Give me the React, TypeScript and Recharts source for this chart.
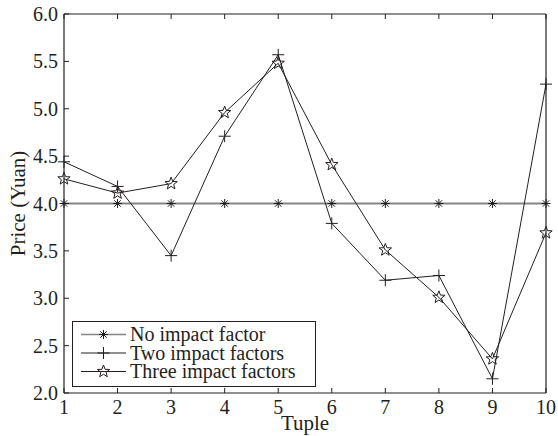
import React from 'react';
import { LineChart, Line, XAxis, YAxis, Legend } from 'recharts';

const tuples = [1, 2, 3, 4, 5, 6, 7, 8, 9, 10];
const noImpact = [4, 4, 4, 4, 4, 4, 4, 4, 4, 4];
const twoImpact = [4.44, 4.18, 3.45, 4.71, 5.57, 3.79, 3.19, 3.24, 2.15, 5.26];
const threeImpact = [4.26, 4.11, 4.21, 4.96, 5.48, 4.41, 3.51, 3.01, 2.36, 3.69];
const yTicks = [2, 2.5, 3, 3.5, 4, 4.5, 5, 5.5, 6];
const seriesNames = ['No impact factor', 'Two impact factors', 'Three impact factors'];

const data = tuples.map((t, i) => ({
  tuple: t,
  none: noImpact[i],
  two: twoImpact[i],
  three: threeImpact[i],
}));

const INK = '#231f20';
const GRAY = '#858585';
const FONT = '"Liberation Serif", "Times New Roman", serif';

const Asterisk = ({ cx, cy }: { cx: number; cy: number }) => {
  const r = 4.5;
  const d = r * 0.72;
  return (
    <g stroke={INK} strokeWidth={1}>
      <line x1={cx - r} y1={cy} x2={cx + r} y2={cy} />
      <line x1={cx} y1={cy - r} x2={cx} y2={cy + r} />
      <line x1={cx - d} y1={cy - d} x2={cx + d} y2={cy + d} />
      <line x1={cx - d} y1={cy + d} x2={cx + d} y2={cy - d} />
    </g>
  );
};

const Plus = ({ cx, cy }: { cx: number; cy: number }) => {
  const r = 6;
  return (
    <g stroke={INK} strokeWidth={1}>
      <line x1={cx - r} y1={cy} x2={cx + r} y2={cy} />
      <line x1={cx} y1={cy - r} x2={cx} y2={cy + r} />
    </g>
  );
};

const Star = ({ cx, cy }: { cx: number; cy: number }) => {
  const R = 6.5;
  const r = R * 0.42;
  const pts: string[] = [];
  for (let k = 0; k < 10; k++) {
    const ang = -Math.PI / 2 + (k * Math.PI) / 5;
    const rad = k % 2 === 0 ? R : r;
    pts.push(`${cx + rad * Math.cos(ang)},${cy + rad * Math.sin(ang)}`);
  }
  return <polygon points={pts.join(' ')} fill="none" stroke={INK} strokeWidth={1} />;
};

const BottomTick = (p: any) => (
  <g>
    <line x1={p.x} x2={p.x} y1={p.y} y2={p.y - 5} stroke={INK} />
    <text x={p.x} y={p.y + 21} textAnchor="middle" fontFamily={FONT} fontSize={20} fill={INK}>
      {p.payload.value}
    </text>
  </g>
);
const TopTick = (p: any) => (
  <line x1={p.x} x2={p.x} y1={p.y} y2={p.y + 5} stroke={INK} />
);
const LeftTick = (p: any) => (
  <g>
    <line x1={p.x} x2={p.x + 5} y1={p.y} y2={p.y} stroke={INK} />
    <text x={p.x - 6} y={p.y + 7} textAnchor="end" fontFamily={FONT} fontSize={20} fill={INK}>
      {Number(p.payload.value).toFixed(1)}
    </text>
  </g>
);
const RightTick = (p: any) => (
  <line x1={p.x} x2={p.x - 5} y1={p.y} y2={p.y} stroke={INK} />
);

const markers = [Asterisk, Plus, Star];
const lineColors = [GRAY, INK, INK];

const LegendBox = () => (
  <svg width={244} height={66} style={{ display: 'block' }}>
    <rect x={0.5} y={0.5} width={243} height={65} fill="#fff" stroke={INK} strokeWidth={1} />
    {seriesNames.map((name, i) => {
      const cy = [13.5, 32, 50.5][i];
      const M = markers[i];
      return (
        <g key={name}>
          <line x1={9} x2={54} y1={cy} y2={cy} stroke={lineColors[i]} strokeWidth={i === 0 ? 1.5 : 1} />
          <M cx={31.5} cy={cy} />
          <text x={58} y={cy + 6.5} fontFamily={FONT} fontSize={20} fill={INK}>
            {name}
          </text>
        </g>
      );
    })}
  </svg>
);

export default function App() {
  return (
    <div style={{ position: 'absolute', left: 0, top: 0, width: 558, height: 436, background: '#fff' }}>
      <LineChart width={558} height={436} data={data} margin={{ top: 0, right: 0, bottom: 0, left: 0 }}>
        <XAxis
          xAxisId="bottom"
          dataKey="tuple"
          type="number"
          domain={[1, 10]}
          ticks={tuples}
          orientation="bottom"
          height={43}
          tickSize={0}
          tickMargin={0}
          tickLine={false}
          axisLine={{ stroke: INK, strokeWidth: 1.2 }}
          tick={BottomTick}
          interval={0}
          label={(props: any) => {
            const vb = props.viewBox;
            return (
              <text x={vb.x + vb.width / 2} y={vb.y + 37} textAnchor="middle" fontFamily={FONT} fontSize={21} fill={INK}>
                Tuple
              </text>
            );
          }}
        />
        <XAxis
          xAxisId="top"
          dataKey="tuple"
          type="number"
          domain={[1, 10]}
          ticks={tuples}
          orientation="top"
          height={14}
          tickSize={0}
          tickMargin={0}
          tickLine={false}
          axisLine={{ stroke: INK, strokeWidth: 1.2 }}
          tick={TopTick}
          interval={0}
        />
        <YAxis
          yAxisId="left"
          type="number"
          domain={[2, 6]}
          ticks={yTicks}
          orientation="left"
          width={64}
          tickSize={0}
          tickMargin={0}
          tickLine={false}
          axisLine={{ stroke: INK, strokeWidth: 1.2 }}
          tick={LeftTick}
          interval={0}
          label={(props: any) => {
            const vb = props.viewBox;
            const cx = vb.x + 25;
            const cy = vb.y + vb.height / 2;
            return (
              <text
                x={cx}
                y={cy}
                transform={`rotate(-90, ${cx}, ${cy})`}
                textAnchor="middle"
                fontFamily={FONT}
                fontSize={21}
                fill={INK}
              >
                Price (Yuan)
              </text>
            );
          }}
        />
        <YAxis
          yAxisId="right"
          type="number"
          domain={[2, 6]}
          ticks={yTicks}
          orientation="right"
          width={12}
          tickSize={0}
          tickMargin={0}
          tickLine={false}
          axisLine={{ stroke: INK, strokeWidth: 1.2 }}
          tick={RightTick}
          interval={0}
        />
        <Line
          xAxisId="bottom"
          yAxisId="left"
          dataKey="none"
          name={seriesNames[0]}
          stroke={GRAY}
          strokeWidth={2}
          isAnimationActive={false}
          dot={(p: any) => <Asterisk key={`a-${p.index}`} cx={p.cx} cy={p.cy} />}
          activeDot={false}
        />
        <Line
          xAxisId="bottom"
          yAxisId="left"
          dataKey="two"
          name={seriesNames[1]}
          stroke={INK}
          strokeWidth={1}
          isAnimationActive={false}
          dot={(p: any) => <Plus key={`p-${p.index}`} cx={p.cx} cy={p.cy} />}
          activeDot={false}
        />
        <Line
          xAxisId="bottom"
          yAxisId="left"
          dataKey="three"
          name={seriesNames[2]}
          stroke={INK}
          strokeWidth={1}
          isAnimationActive={false}
          dot={(p: any) => <Star key={`s-${p.index}`} cx={p.cx} cy={p.cy} />}
          activeDot={false}
        />
        <Legend
          layout="vertical"
          align="center"
          verticalAlign="middle"
          wrapperStyle={{ left: 72, top: 321, width: 244, height: 66 }}
          content={() => <LegendBox />}
        />
      </LineChart>
    </div>
  );
}
